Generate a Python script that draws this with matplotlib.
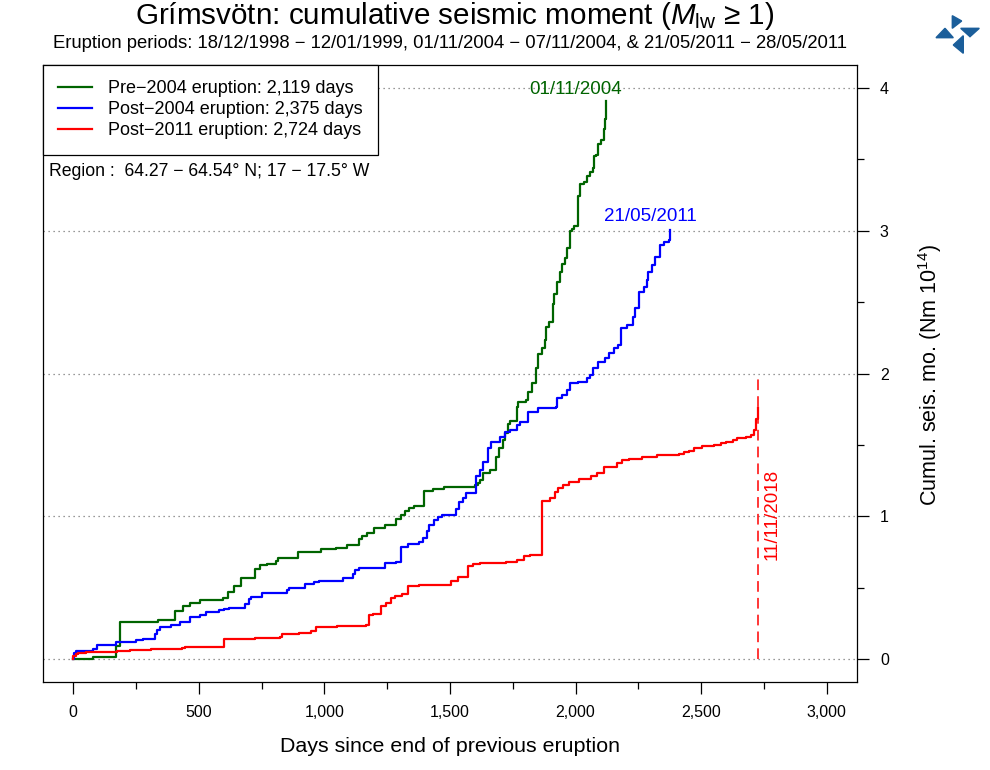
import matplotlib
matplotlib.use("Agg")
import matplotlib.pyplot as plt
from matplotlib.patches import Polygon
from matplotlib.ticker import FixedLocator, FixedFormatter, MultipleLocator

plt.rcParams["font.family"] = ["Liberation Sans", "DejaVu Sans"]
plt.rcParams["mathtext.fontset"] = "custom"
plt.rcParams["mathtext.rm"] = "Liberation Sans"
plt.rcParams["mathtext.it"] = "Liberation Sans:italic"

# cumulative seismic moment (Nm 10^14) against days since end of previous eruption
pre2004_days = [0, 80, 170, 188, 336, 406, 439, 466, 503, 595,
                616, 642, 668, 722, 742, 770, 808, 816, 896, 906,
                988, 1045, 1089, 1136, 1149, 1169, 1196, 1242, 1285, 1305,
                1322, 1338, 1358, 1396, 1432, 1478, 1600, 1610, 1620, 1630,
                1658, 1682, 1695, 1711, 1718, 1731, 1738, 1765, 1771, 1804,
                1811, 1828, 1844, 1851, 1865, 1878, 1884, 1895, 1908, 1914,
                1924, 1938, 1944, 1958, 1964, 1978, 1984, 1994, 2008, 2011,
                2018, 2034, 2044, 2058, 2071, 2074, 2082, 2091, 2100, 2111,
                2117, 2119]
pre2004_moment = [0, 0.016, 0.09, 0.26, 0.273, 0.336, 0.373, 0.394, 0.413, 0.425,
                  0.467, 0.514, 0.570, 0.630, 0.656, 0.663, 0.689, 0.71, 0.747, 0.752,
                  0.77, 0.78, 0.80, 0.838, 0.862, 0.88, 0.92, 0.939, 0.979, 1.009,
                  1.037, 1.06, 1.072, 1.179, 1.193, 1.207, 1.219, 1.235, 1.254, 1.305,
                  1.324, 1.413, 1.476, 1.534, 1.58, 1.644, 1.667, 1.768, 1.798, 1.814,
                  1.873, 1.931, 2.036, 2.14, 2.18, 2.235, 2.328, 2.36, 2.49, 2.56,
                  2.64, 2.71, 2.77, 2.81, 2.88, 2.995, 3.01, 3.03, 3.04, 3.24,
                  3.33, 3.34, 3.38, 3.41, 3.44, 3.52, 3.53, 3.61, 3.636, 3.71,
                  3.78, 3.91]

post2004_days = [0, 4, 10, 80, 93, 100, 170, 250, 280, 324,
                 333, 346, 390, 426, 466, 503, 530, 579, 599, 619,
                 683, 699, 708, 750, 852, 859, 923, 959, 979, 1076,
                 1112, 1123, 1139, 1242, 1285, 1305, 1332, 1375, 1391, 1407,
                 1418, 1438, 1451, 1469, 1522, 1535, 1550, 1562, 1602, 1605,
                 1618, 1631, 1651, 1665, 1698, 1718, 1738, 1765, 1778, 1811,
                 1851, 1922, 1927, 1944, 1964, 1978, 2011, 2044, 2058, 2071,
                 2091, 2117, 2131, 2151, 2167, 2180, 2204, 2228, 2237, 2253,
                 2271, 2284, 2290, 2304, 2317, 2334, 2350, 2370, 2375]
post2004_moment = [0, 0.04, 0.058, 0.072, 0.096, 0.10, 0.121, 0.133, 0.142, 0.175,
                   0.203, 0.224, 0.238, 0.261, 0.294, 0.31, 0.331, 0.341, 0.348, 0.36,
                   0.385, 0.418, 0.436, 0.46, 0.483, 0.5, 0.523, 0.542, 0.549, 0.565,
                   0.593, 0.623, 0.64, 0.67, 0.682, 0.782, 0.806, 0.822, 0.845, 0.897,
                   0.939, 0.974, 0.993, 1.009, 1.05, 1.10, 1.13, 1.165, 1.22, 1.282,
                   1.324, 1.382, 1.476, 1.522, 1.557, 1.592, 1.604, 1.639, 1.663, 1.733,
                   1.756, 1.768, 1.826, 1.849, 1.884, 1.931, 1.943, 1.966, 1.99, 2.036,
                   2.078, 2.106, 2.141, 2.176, 2.20, 2.316, 2.34, 2.398, 2.456, 2.573,
                   2.608, 2.655, 2.713, 2.76, 2.818, 2.90, 2.923, 2.935, 3.005]

post2011_days = [0, 1, 13, 20, 53, 173, 226, 310, 433, 446,
                 599, 639, 722, 822, 832, 899, 946, 966, 1052, 1165,
                 1178, 1192, 1225, 1245, 1265, 1282, 1309, 1332, 1375, 1502,
                 1531, 1571, 1591, 1618, 1724, 1765, 1794, 1818, 1868, 1898,
                 1918, 1931, 1951, 1975, 2015, 2062, 2084, 2111, 2164, 2184,
                 2211, 2264, 2324, 2410, 2430, 2450, 2470, 2504, 2550, 2577,
                 2597, 2627, 2643, 2677, 2697, 2710, 2717, 2724]
post2011_moment = [0, 0.021, 0.035, 0.04, 0.047, 0.054, 0.061, 0.068, 0.075, 0.086,
                   0.138, 0.142, 0.149, 0.156, 0.175, 0.182, 0.196, 0.224, 0.233, 0.238,
                   0.308, 0.315, 0.371, 0.39, 0.425, 0.443, 0.455, 0.514, 0.518, 0.546,
                   0.574, 0.651, 0.663, 0.67, 0.682, 0.694, 0.722, 0.729, 1.109, 1.126,
                   1.172, 1.196, 1.219, 1.242, 1.261, 1.284, 1.30, 1.347, 1.375, 1.394,
                   1.401, 1.417, 1.427, 1.438, 1.448, 1.459, 1.476, 1.494, 1.501, 1.511,
                   1.522, 1.534, 1.55, 1.557, 1.569, 1.604, 1.679, 1.76]

series_labels = ["Pre\u22122004 eruption: 2,119 days",
                 "Post\u22122004 eruption: 2,375 days",
                 "Post\u22122011 eruption: 2,724 days"]
series_colors = ["#006400", "#0000ff", "#ff0000"]

x_ticks = [0, 500, 1000, 1500, 2000, 2500, 3000]
x_tick_labels = ["0", "500", "1,000", "1,500", "2,000", "2,500", "3,000"]
y_ticks = [0, 1, 2, 3, 4]

latest_day = 2724  # 11/11/2018
latest_top = 2

fig = plt.figure(figsize=(9.9, 7.7), dpi=100)
ax = fig.add_axes([43 / 990, 1 - 682 / 770, 814 / 990, 617 / 770])
ax.set_xlim(-120, 3120)
ax.set_ylim(-0.16, 4.16)

for y in y_ticks:
    ax.axhline(y, color="#777777", lw=0.9, linestyle=(0, (1, 3)), zorder=1)

series = [(pre2004_days, pre2004_moment), (post2004_days, post2004_moment),
          (post2011_days, post2011_moment)]
for (d, m), lab, col in zip(series, series_labels, series_colors):
    ax.plot(d, m, drawstyle="steps-post", color=col, lw=1.6, label=lab, zorder=3)

ax.plot([latest_day, latest_day], [0, latest_top], color="#ff0000", lw=1.1,
        linestyle=(0, (7, 4)), zorder=2)
ax.text(latest_day + 58, 1.01, "11/11/2018", color="#ff0000", rotation=90,
        ha="center", va="center", fontsize=13.5)
ax.text(1999, 3.99, "01/11/2004", color="#006400", ha="center", va="center", fontsize=13.5)
ax.text(2297, 3.10, "21/05/2011", color="#0000ff", ha="center", va="center", fontsize=13.5)

# axes and ticks, R-style box
ax.xaxis.set_major_locator(FixedLocator(x_ticks))
ax.xaxis.set_major_formatter(FixedFormatter(x_tick_labels))
ax.xaxis.set_minor_locator(MultipleLocator(250))
ax.yaxis.tick_right()
ax.yaxis.set_major_locator(FixedLocator(y_ticks))
ax.yaxis.set_minor_locator(MultipleLocator(0.5))
ax.tick_params(axis="both", which="major", length=8.5, width=0.9, labelsize=11.5, pad=8)
ax.tick_params(axis="both", which="minor", length=5, width=0.9)
for s in ax.spines.values():
    s.set_linewidth(0.9)

leg = ax.legend(loc="upper left", bbox_to_anchor=(0, 1), borderaxespad=0,
                fancybox=False, edgecolor="black", framealpha=1, fontsize=13,
                handlelength=1.85, handletextpad=0.9, labelspacing=0.22,
                borderpad=0.85)
leg.get_frame().set_linewidth(0.9)
leg.set_zorder(5)

fig.text(49 / 990, 1 - 172 / 770, "Region :  64.27 \u2212 64.54\u00b0 N; 17 \u2212 17.5\u00b0 W",
         ha="left", va="center", fontsize=12.7)

fig.text(455 / 990, 1 - 16 / 770,
         "Gr\u00edmsv\u00f6tn: cumulative seismic moment ($M_{\\mathrm{lw}}$ \u2265 1)",
         ha="center", va="center", fontsize=21.3)
fig.text(450 / 990, 1 - 44 / 770,
         "Eruption periods: 18/12/1998 \u2212 12/01/1999, 01/11/2004 \u2212 07/11/2004, "
         "& 21/05/2011 \u2212 28/05/2011", ha="center", va="center", fontsize=13.3)
fig.text(450 / 990, 1 - 746 / 770, "Days since end of previous eruption",
         ha="center", va="center", fontsize=15.4)
fig.text(930 / 990, 1 - 375 / 770, "Cumul. seis. mo. (Nm 10$^{14}$)",
         ha="center", va="center", rotation=90, fontsize=15.5)

# small pinwheel logo, top right
logo = [[(952.3, 15.7), (961.7, 21.0), (952.3, 28.3)],
        [(936.0, 37.7), (945.0, 28.3), (953.3, 37.7)],
        [(960.7, 28.3), (979.3, 28.3), (970.0, 36.7)],
        [(963.3, 35.7), (963.3, 53.3), (953.3, 45.0)]]
for tri in logo:
    pts = [(px / 990, 1 - py / 770) for px, py in tri]
    fig.add_artist(Polygon(pts, closed=True, color="#1b5e9a", transform=fig.transFigure))

fig.savefig("out.png", dpi=100)
